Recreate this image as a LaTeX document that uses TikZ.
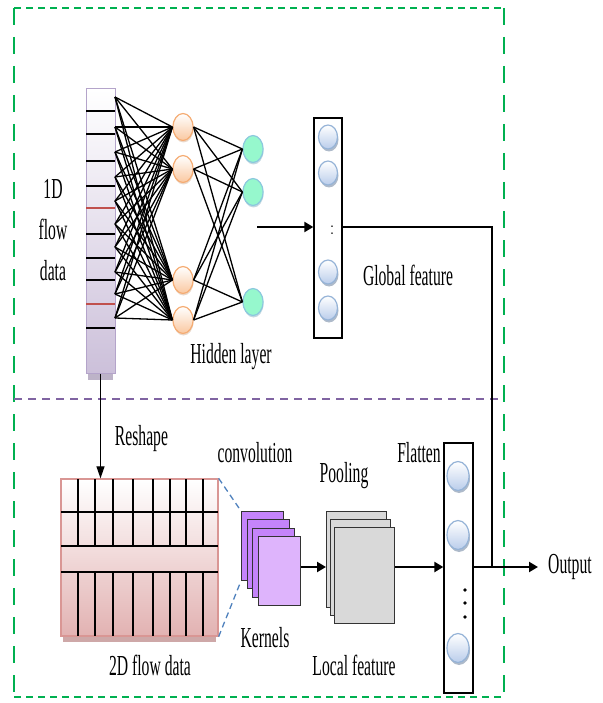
\documentclass[tikz,border=0pt]{standalone}
\usepackage{fontspec}
\newfontfamily\diagfont{Liberation Serif}[FakeStretch=0.54]
\usetikzlibrary{arrows.meta,positioning,shapes.geometric,shadows}
\definecolor{framegreen}{RGB}{0,176,80}
\definecolor{sepviolet}{RGB}{128,100,162}
\definecolor{lilac}{RGB}{204,192,218}
\definecolor{lilacline}{RGB}{180,164,202}
\definecolor{peach}{RGB}{250,200,160}
\definecolor{peachline}{RGB}{245,172,115}
\definecolor{mint}{RGB}{150,248,205}
\definecolor{mintline}{RGB}{140,200,222}
\definecolor{paleblue}{RGB}{186,205,235}
\definecolor{blueline}{RGB}{149,179,215}
\definecolor{rose}{RGB}{226,178,178}
\definecolor{roseline}{RGB}{217,150,148}
\definecolor{cellred}{RGB}{192,80,77}
\definecolor{kernback}{RGB}{196,132,250}
\definecolor{kernfront}{RGB}{222,180,252}
\definecolor{dashblue}{RGB}{79,129,189}
\tikzset{
    lbl/.style={font=\diagfont\fontsize{29}{41}\selectfont, inner sep=0pt},
    netarrow/.style={-{Triangle[length=9pt,width=10pt]}, line width=2.2pt},
    link/.style={line width=1.3pt},
    hidnode/.style={ellipse, minimum width=20pt, minimum height=27pt, inner sep=0pt,
        top color=white, bottom color=peach, draw=peachline, line width=1.2pt,
        drop shadow={shadow xshift=0.5pt, shadow yshift=-2pt, fill=peach!70!gray, opacity=0.5}},
    outnode/.style={ellipse, minimum width=20pt, minimum height=27pt, inner sep=0pt,
        fill=mint, draw=mintline, line width=1.2pt,
        drop shadow={shadow xshift=0.5pt, shadow yshift=-2pt, fill=mintline!70!gray, opacity=0.5}},
    featnode/.style={ellipse, minimum width=19pt, minimum height=24pt, inner sep=0pt,
        top color=white, bottom color=paleblue, draw=blueline, line width=1.2pt,
        drop shadow={shadow xshift=1pt, shadow yshift=-2.5pt, fill=blueline!60!gray, opacity=0.7}}
}
\begin{document}
\begin{tikzpicture}[x=1pt, y=-1pt,
    framepart/.style={framegreen, line width=2.6pt},
    columnbox/.style={draw, black, line width=1.3pt, fill=white, inner sep=0pt}
]
\useasboundingbox (0,0) rectangle (602,703);
\draw[framepart, dash pattern=on 7pt off 5pt] (14,8) -- (504,8) (14,697) -- (504,697);
\draw[framepart, dash pattern=on 17pt off 12pt] (14,8) -- (14,697) (504,8) -- (504,697);
\draw[sepviolet, line width=1.3pt, dash pattern=on 8pt off 6pt] (14,399) -- (502,399);

\fill[lilac!80!gray] (88,373) rectangle (113,380);
\node[rectangle, minimum width=29pt, minimum height=284pt, inner sep=0pt,
    top color=white, bottom color=lilac, draw=lilacline, line width=1pt] (col) at (100.5,231) {};
\foreach \y/\c in {111/black,134/black,161/black,186/black,208/cellred,234/black,258/black,280/black,304/cellred,328/black}
    \draw[color=\c, line width=1.2pt] (86,\y) -- (115,\y);

\foreach \i/\y in {1/127,2/169,3/280,4/320}
    \node[hidnode] (h\i) at (183,\y) {};
\foreach \k/\y in {1/149,2/192,3/302}
    \node[outnode] (o\k) at (253,\y) {};
\foreach \j/\y in {1/97,2/127,3/152,4/177,5/201,6/224,7/247,8/272,9/294,10/318}
    \coordinate (s\j) at (115,\y);
\foreach \j in {1,...,10}
    \foreach \i in {1,...,4}
        \draw[link] (s\j) -- (h\i.west);
\foreach \i in {1,...,4}
    \foreach \k in {1,2,3}
        \draw[link] (h\i.east) -- (o\k.west);
\node[lbl, align=center] (flow1d) at (53,230) {1D\\flow\\data};
\node[lbl, anchor=base] (hidlbl) at (231,363) {Hidden layer};

\coordinate (nnout) at (257,227);
\coordinate (junc) at (492,567);
\node[columnbox, minimum width=28pt, minimum height=220pt] (gbox) at (328,228) {};
\foreach \i/\y in {1/137,2/173,3/272,4/308}
    \node[featnode] (g\i) at (328,\y) {};
\node[font=\fontsize{20}{22}\selectfont, inner sep=0pt] (gdots) at (332,230) {:};
\node[lbl, anchor=base] (glbl) at (408,285) {Global feature};
\draw[netarrow] (nnout) -- (gbox.west |- nnout);
\draw[line width=1.3pt] (gbox.east |- nnout) -| (junc);

\node[rectangle, minimum width=157pt, minimum height=157pt, inner sep=0pt,
    top color=white, bottom color=rose, draw=roseline, line width=1.3pt] (grid) at (139.5,557.5) {};
\fill[rose!80!gray] (63,636.7) rectangle (216,642);
\foreach \y in {512,546,572}
    \draw[line width=1.4pt] (61,\y) -- (218,\y);
\foreach \x in {78,95,113,133,153,170,186,203}
    \draw[line width=1.4pt] (\x,479) -- (\x,546) (\x,572) -- (\x,636);
\draw[-{Triangle[length=12pt,width=8pt]}, line width=1.2pt] (col.south) -- (col.south |- grid.north);
\node[lbl, anchor=base] (reshlbl) at (141.5,445) {Reshape};
\node[lbl, anchor=base] (griddlbl) at (150,675) {2D flow data};

\foreach \i in {0,1,2}
    \node[draw=black!80, line width=1pt, fill=kernback, minimum width=42pt, minimum height=69pt,
        inner sep=0pt, anchor=north west] (k\i) at (241+5.6*\i,511+8.3*\i) {};
\node[draw=black!80, line width=1pt, fill=kernfront, minimum width=42pt, minimum height=69pt,
    inner sep=0pt, anchor=north west] (k3) at (257.8,535.9) {};
\draw[dashblue, line width=1.3pt, dash pattern=on 6pt off 4pt] (grid.north east) -- (k0.north west)
    (grid.south east) -- (k0.south west);
\node[lbl, anchor=base] (convlbl) at (255,462) {convolution};
\node[lbl, anchor=base] (kernlbl) at (265,647) {Kernels};

\foreach \i in {0,1,2}
    \node[draw=black!80, line width=1pt, fill=black!15, minimum width=60pt, minimum height=96pt,
        inner sep=0pt, anchor=north west] (p\i) at (326+4*\i,511+8*\i) {};
\draw[netarrow] (k3.east |- junc) -- (p0.west |- junc);
\node[lbl, anchor=base] (poollbl) at (344,482) {Pooling};
\node[lbl, anchor=base] (locallbl) at (354,675) {Local feature};

\node[columnbox, minimum width=29pt, minimum height=250pt] (flat) at (458.5,568) {};
\foreach \i/\y in {1/476,2/535,3/648}
    \node[featnode, minimum width=22pt, minimum height=29pt] (f\i) at (458,\y) {};
\foreach \y in {590,603,617}
    \fill (465,\y) circle (1.8pt);
\node[lbl, anchor=base] (flatlbl) at (419,462) {Flatten};
\draw[netarrow] (p2.east |- junc) -- (flat.west |- junc);

\coordinate (outtip) at (538,567);
\draw[netarrow] (flat.east |- junc) -- (outtip);
\node[lbl, right=10pt of outtip] (outlbl) {Output};
\end{tikzpicture}
\end{document}
